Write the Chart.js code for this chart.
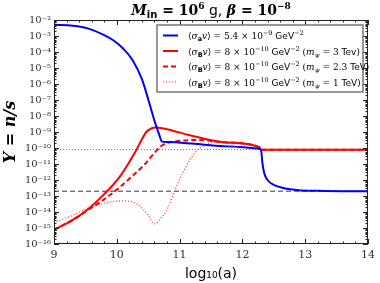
<!DOCTYPE html>
<html>
<head>
<meta charset="utf-8">
<script src="https://cdn.jsdelivr.net/npm/chart.js@4.4.0/dist/chart.umd.min.js"></script>
<style>
  html, body { margin: 0; padding: 0; background: #fff; }
</style>
</head>
<body>
<canvas id="chart" width="380" height="283"></canvas>
<script>
// values, x is log10(a), y is Y = n/s
var blueA = [9.0, 9.3, 9.55, 9.8, 9.95, 10.1, 10.25, 10.4, 10.5, 10.6, 10.67, 10.72, 10.8, 11.2, 11.7, 12.27, 12.3, 12.32, 12.35, 12.4, 12.5, 12.65, 12.9, 13.2, 13.6, 14.0];
var blueY = [5.0e-3, 4.4e-3, 2.9e-3, 1.15e-3, 5.2e-4, 1.66e-4, 3.2e-5, 2.0e-6, 1.12e-7, 5.0e-9, 7.9e-10, 2.5e-10, 2.35e-10, 1.9e-10, 1.3e-10, 8.9e-11, 6.3e-11, 1.05e-11, 2.5e-12, 1.0e-12, 5.0e-13, 3.2e-13, 2.3e-13, 2.1e-13, 2.0e-13, 2.0e-13];

var red3A = [9.0, 9.3, 9.54, 9.8, 10.06, 10.3, 10.4, 10.47, 10.55, 10.62, 10.7, 10.8, 11.18, 11.7, 12.27, 12.3, 14.0];
var red3Y = [7.9e-16, 3.2e-15, 1.5e-14, 1.3e-13, 1.9e-12, 6.3e-11, 3.5e-10, 1.0e-9, 1.66e-9, 1.9e-9, 1.8e-9, 1.5e-9, 6.0e-10, 2.3e-10, 1.12e-10, 7.9e-11, 7.9e-11];

var red23A = [9.0, 9.3, 9.55, 9.75, 10.0, 10.25, 10.45, 10.6, 10.7, 10.8, 10.92, 11.28, 11.7, 12.27, 12.3, 14.0];
var red23Y = [7.9e-16, 3.2e-15, 1.4e-14, 4.5e-14, 2.5e-13, 1.8e-12, 1.0e-11, 5.0e-11, 1.26e-10, 2.1e-10, 2.6e-10, 3.2e-10, 2.3e-10, 1.12e-10, 7.9e-11, 7.9e-11];

var red1A = [9.0, 9.3, 9.54, 9.8, 10.06, 10.32, 10.5, 10.6, 10.7, 10.79, 10.92, 11.05, 11.23, 11.44, 11.6, 11.8, 12.27, 12.3, 14.0];
var red1Y = [2.2e-15, 6.3e-15, 1.74e-14, 3.5e-14, 5.0e-14, 3.2e-14, 6.3e-15, 1.8e-15, 4.0e-15, 1.17e-14, 2.1e-13, 2.8e-12, 4.3e-11, 1.8e-10, 2.3e-10, 1.9e-10, 1.12e-10, 7.9e-11, 7.9e-11];

var dottedLevel = 8e-11;
var dashedLevel = 2e-13;

var xTicks = [9, 10, 11, 12, 13, 14];
var xTickLabels = ['9', '10', '11', '12', '13', '14'];
var yTicks = [1e-16, 1e-15, 1e-14, 1e-13, 1e-12, 1e-11, 1e-10, 1e-9, 1e-8, 1e-7, 1e-6, 1e-5, 1e-4, 1e-3, 1e-2];
var yTickLabels = ['10⁻¹⁶', '10⁻¹⁵', '10⁻¹⁴', '10⁻¹³', '10⁻¹²', '10⁻¹¹', '10⁻¹⁰', '10⁻⁹', '10⁻⁸', '10⁻⁷', '10⁻⁶', '10⁻⁵', '10⁻⁴', '10⁻³', '10⁻²'];

function pts(xs, ys) {
    return xs.map(function (x, i) { return { x: x, y: ys[i] }; });
}

var SERIF = '"DejaVu Serif", serif';
var SANS = '"DejaVu Sans", sans-serif';

// draws a run of text pieces with their own font and vertical shift
function drawRich(ctx, parts, x, y, align) {
    var w = 0;
    parts.forEach(function (p) { ctx.font = p.f; w += ctx.measureText(p.t).width; });
    var cx = align === 'center' ? x - w / 2 : x;
    parts.forEach(function (p) {
        ctx.font = p.f;
        ctx.fillText(p.t, cx, y + (p.dy || 0));
        cx += ctx.measureText(p.t).width;
    });
}

function sigmaParts(sub, rest) {
    var f = '9px ' + SERIF, s = '6.5px ' + SERIF;
    return [
        { t: '⟨', f: f },
        { t: 'σ', f: 'italic ' + f },
        { t: sub, f: 'bold 6.5px ' + SANS, dy: 2 },
        { t: 'v', f: 'italic ' + f },
        { t: '⟩ = ' + rest[0] + ' × 10', f: f },
        { t: rest[1], f: s, dy: -4 },
        { t: ' GeV', f: '9px ' + SANS },
        { t: '−2', f: s, dy: -4 }
    ].concat(rest[2] ? [
        { t: ' (', f: f },
        { t: 'm', f: 'italic ' + f },
        { t: 'ψ', f: 'italic ' + s, dy: 2 },
        { t: ' = ' + rest[2] + ' ', f: f },
        { t: rest[3] + ')', f: '9px ' + SANS }
    ] : []);
}

var legendRows = [
    sigmaParts('a', ['5.4', '−9']),
    sigmaParts('B', ['8', '−10', '3', 'Tev']),
    sigmaParts('B', ['8', '−10', '2.3', 'TeV']),
    sigmaParts('B', ['8', '−10', '1', 'TeV'])
];

var decor = {
    id: 'decor',
    afterDraw: function (chart) {
        var ctx = chart.ctx, area = chart.chartArea;
        var xs = chart.scales.x, ys = chart.scales.y;
        ctx.save();
        // frame
        ctx.strokeStyle = '#222';
        ctx.lineWidth = 1;
        ctx.strokeRect(area.left + 0.5, area.top + 0.5, area.right - area.left - 1, area.bottom - area.top - 1);
        // inward ticks
        ctx.beginPath();
        for (var k = 0; k <= 25; k++) {
            var v = 9 + k * 0.2;
            var px = Math.round(xs.getPixelForValue(v)) + 0.5;
            var len = (k % 5 === 0) ? 5 : 2.5;
            ctx.moveTo(px, area.bottom); ctx.lineTo(px, area.bottom - len);
            ctx.moveTo(px, area.top); ctx.lineTo(px, area.top + len);
        }
        for (var e = -16; e <= -2; e++) {
            for (var m = 1; m <= 9; m++) {
                if (e === -2 && m > 1) break;
                var py = Math.round(ys.getPixelForValue(m * Math.pow(10, e))) + 0.5;
                var l = m === 1 ? 5 : 2.5;
                ctx.moveTo(area.left, py); ctx.lineTo(area.left + l, py);
                ctx.moveTo(area.right, py); ctx.lineTo(area.right - l, py);
            }
        }
        ctx.stroke();

        // title
        ctx.fillStyle = '#000';
        ctx.textBaseline = 'alphabetic';
        drawRich(ctx, [
            { t: 'M', f: 'bold italic 14px ' + SERIF },
            { t: 'in', f: 'bold 10px ' + SANS, dy: 3 },
            { t: ' = 10', f: 'bold 14px ' + SERIF },
            { t: '6', f: 'bold 9px ' + SERIF, dy: -6 },
            { t: ' g, ', f: '14px ' + SANS },
            { t: 'β', f: 'bold italic 14px ' + SERIF },
            { t: ' = 10', f: 'bold 14px ' + SERIF },
            { t: '−8', f: 'bold 9px ' + SERIF, dy: -6 }
        ], (area.left + area.right) / 2, 15, 'center');

        // legend
        var bx = 157, by = 25, bw = 206, bh = 67;
        ctx.fillStyle = '#fff';
        ctx.fillRect(bx, by, bw, bh);
        ctx.strokeStyle = '#777';
        ctx.lineWidth = 1.5;
        ctx.strokeRect(bx, by, bw, bh);
        var sets = chart.data.datasets;
        for (var i = 0; i < legendRows.length; i++) {
            var cy = by + 10.5 + i * 15.5;
            var ds = sets[i];
            ctx.save();
            ctx.strokeStyle = ds.borderColor;
            ctx.lineWidth = ds.borderWidth;
            ctx.setLineDash(ds.borderDash || []);
            ctx.beginPath();
            ctx.moveTo(bx + 6, cy); ctx.lineTo(bx + 21, cy);
            ctx.stroke();
            ctx.restore();
            ctx.fillStyle = '#000';
            drawRich(ctx, legendRows[i], bx + 31, cy + 3.5, 'left');
        }
        ctx.restore();
    }
};

new Chart(document.getElementById('chart'), {
    type: 'line',
    data: {
        datasets: [{
            label: 'sigma_a 5.4e-9',
            data: pts(blueA, blueY),
            borderColor: '#0000ff',
            borderWidth: 2
        }, {
            label: 'sigma_B m=3 TeV',
            data: pts(red3A, red3Y),
            borderColor: '#ff0000',
            borderWidth: 2
        }, {
            label: 'sigma_B m=2.3 TeV',
            data: pts(red23A, red23Y),
            borderColor: '#ff0000',
            borderWidth: 2,
            borderDash: [5, 3]
        }, {
            label: 'sigma_B m=1 TeV',
            data: pts(red1A, red1Y),
            borderColor: 'rgba(255,0,0,0.85)',
            borderWidth: 1.2,
            borderDash: [1, 2]
        }, {
            label: 'level dotted',
            data: [{ x: 9, y: dottedLevel }, { x: 14, y: dottedLevel }],
            borderColor: '#777',
            borderWidth: 1,
            borderDash: [1, 2]
        }, {
            label: 'level dashed',
            data: [{ x: 9, y: dashedLevel }, { x: 14, y: dashedLevel }],
            borderColor: '#777',
            borderWidth: 1.5,
            borderDash: [5, 3]
        }]
    },
    options: {
        responsive: false,
        animation: false,
        cubicInterpolationMode: 'monotone',
        elements: { point: { radius: 0 }, line: { fill: false } },
        layout: { padding: { top: 20, right: 8, left: 0, bottom: 0 } },
        plugins: { legend: { display: false }, tooltip: { enabled: false } },
        scales: {
            x: {
                type: 'linear',
                min: 9,
                max: 14,
                afterBuildTicks: function (s) { s.ticks = xTicks.map(function (v) { return { value: v }; }); },
                afterFit: function (s) { s.height = 39; },
                grid: { display: false, drawTicks: false },
                border: { display: false },
                ticks: {
                    autoSkip: false,
                    maxRotation: 0,
                    padding: 5,
                    color: '#333',
                    font: { family: SERIF, size: 11 },
                    callback: function (v, i) { return xTickLabels[i]; }
                },
                title: {
                    display: true,
                    text: 'log₁₀(a)',
                    color: '#000',
                    font: { family: SANS, size: 14 },
                    padding: { top: 0, bottom: 0 }
                }
            },
            y: {
                type: 'logarithmic',
                min: 1e-16,
                max: 1e-2,
                afterBuildTicks: function (s) { s.ticks = yTicks.map(function (v) { return { value: v }; }); },
                afterFit: function (s) { s.width = 54; },
                grid: { display: false, drawTicks: false },
                border: { display: false },
                ticks: {
                    autoSkip: false,
                    padding: 3,
                    color: '#333',
                    font: { family: SERIF, size: 10 },
                    callback: function (v, i) { return yTickLabels[i]; }
                },
                title: {
                    display: true,
                    text: 'Y = n/s',
                    color: '#000',
                    font: { family: SERIF, size: 16, style: 'italic', weight: 'bold' },
                    padding: { top: 1, bottom: 0 }
                }
            }
        }
    },
    plugins: [decor]
});
</script>
</body>
</html>
